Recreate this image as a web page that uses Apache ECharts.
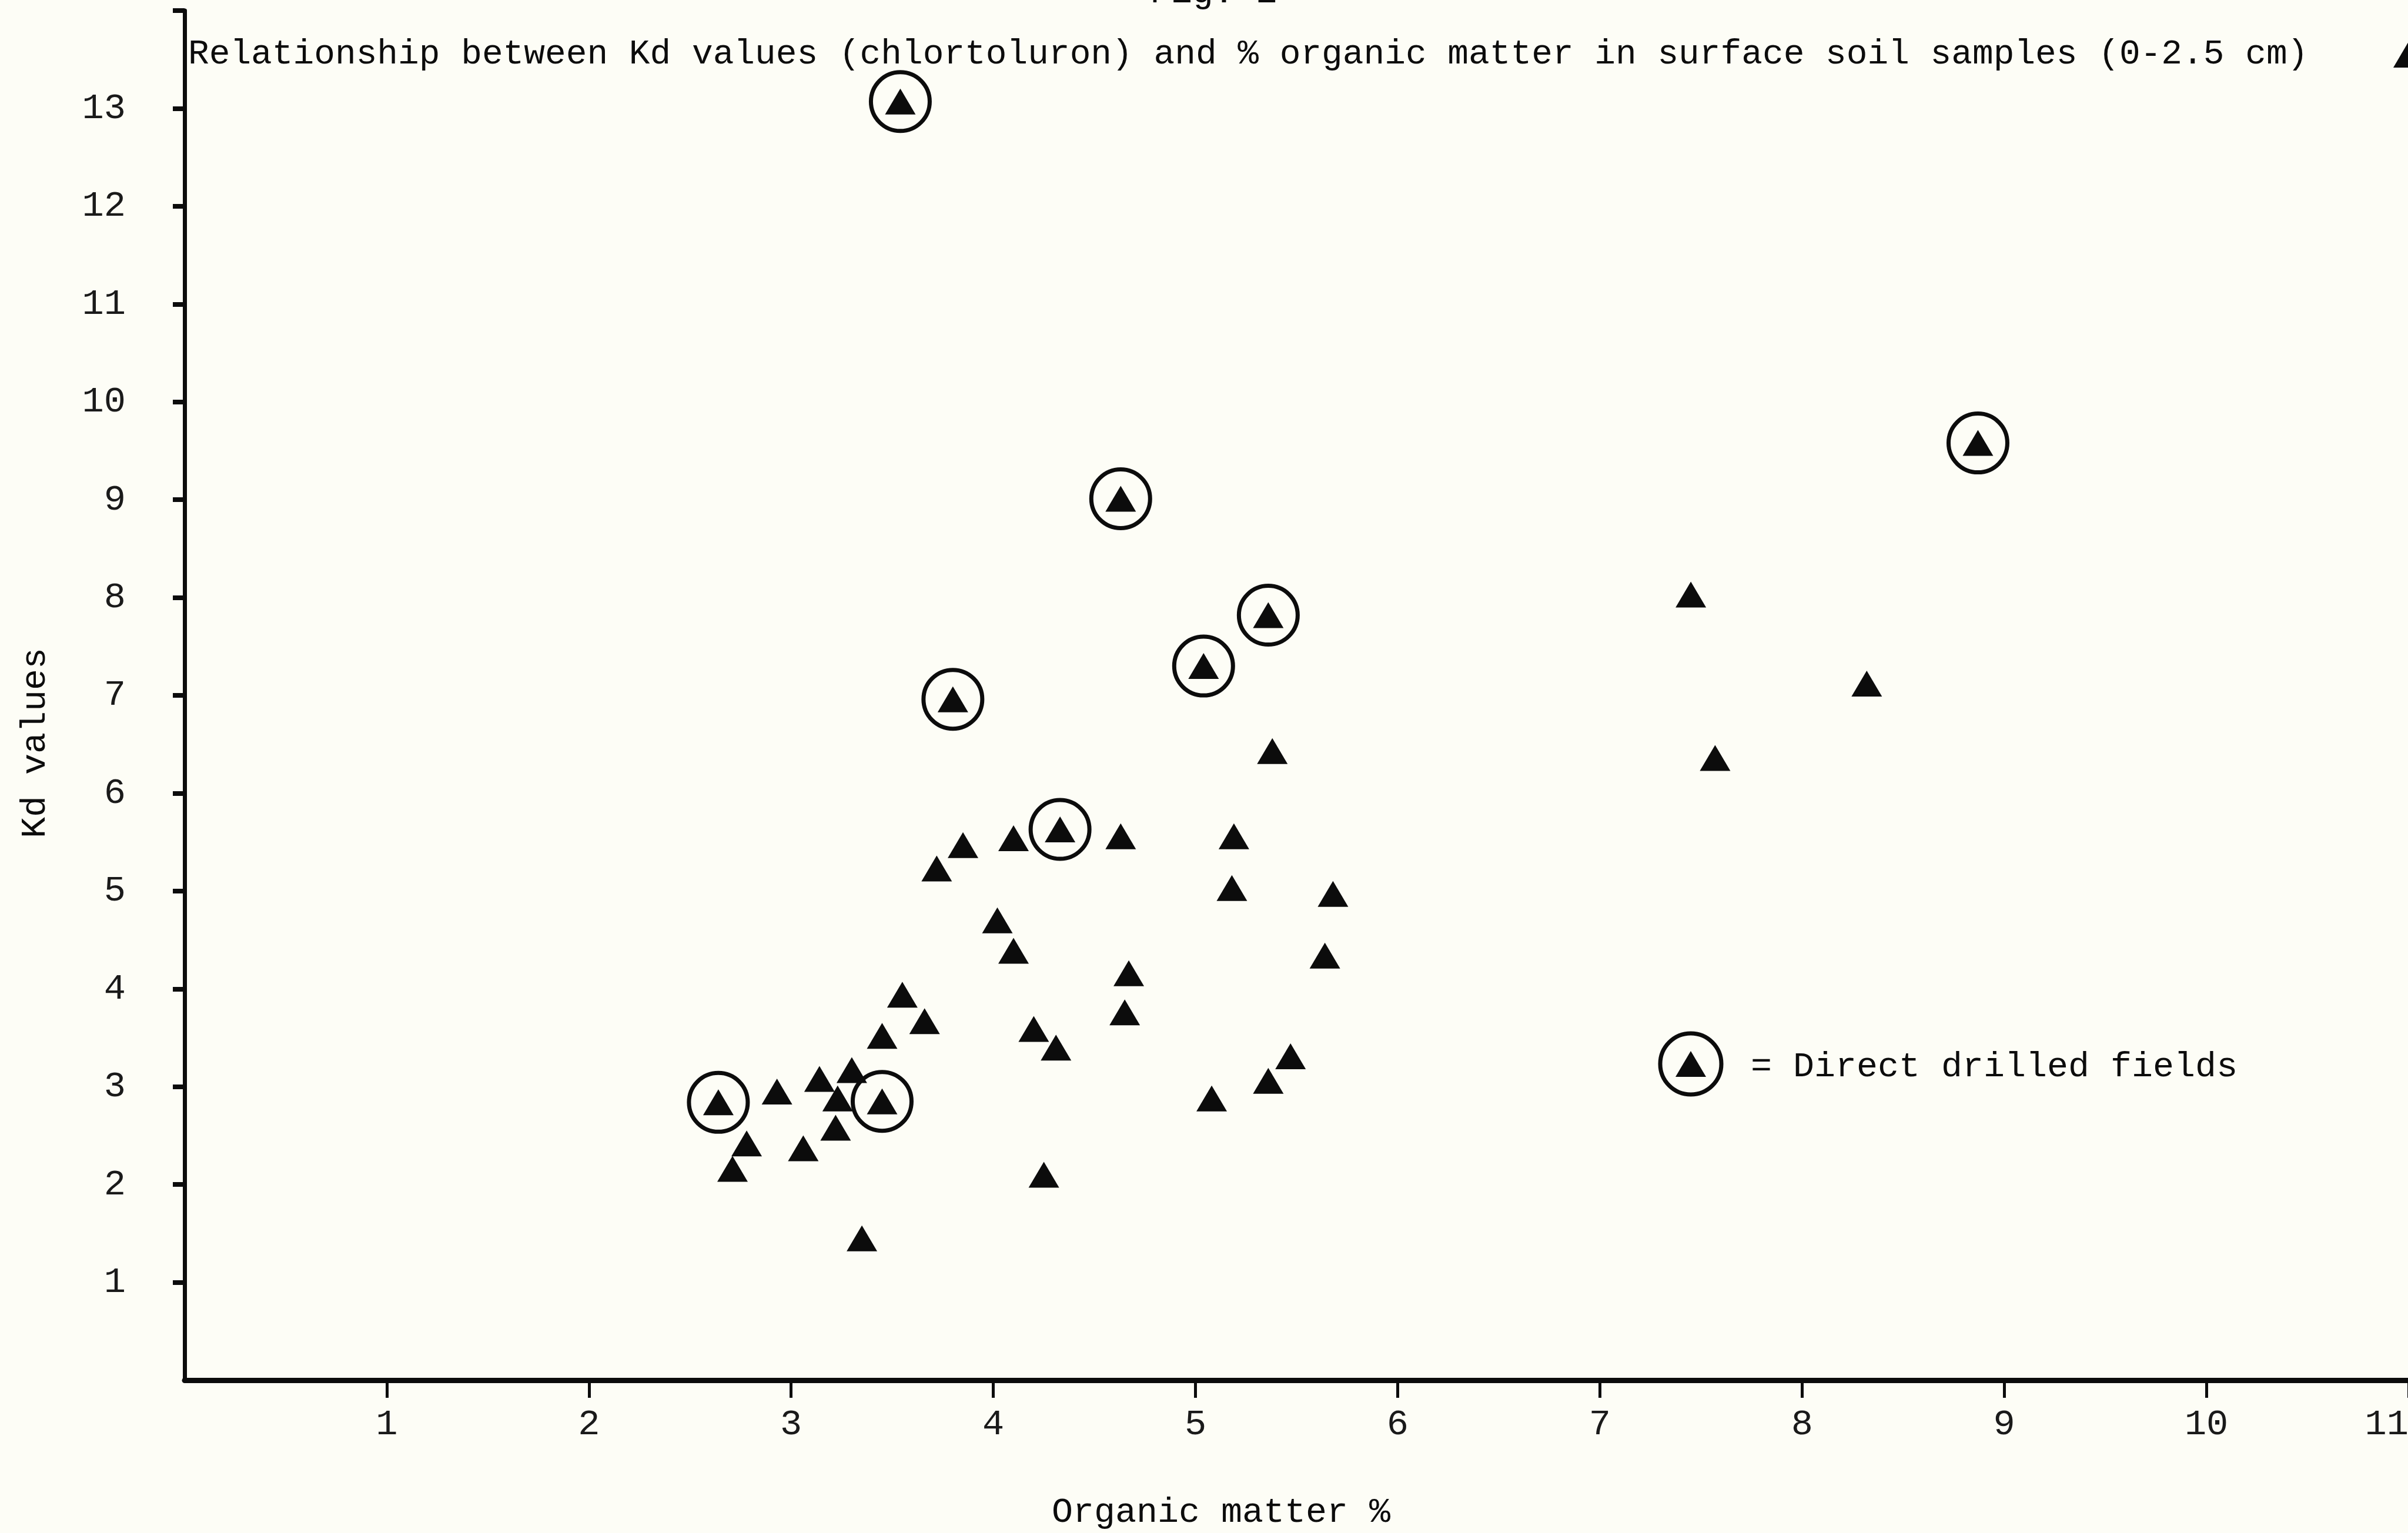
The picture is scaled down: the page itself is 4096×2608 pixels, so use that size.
<!DOCTYPE html>
<html>
<head>
<meta charset="utf-8">
<script src="https://cdn.jsdelivr.net/npm/echarts@6/dist/echarts.min.js"></script>
<style>
html,body{margin:0;padding:0;background:#fdfdf6;}
#chart{width:4096px;height:2608px;}
</style>
</head>
<body>
<div id="chart"></div>
<script>
// ---- data ----
// Direct drilled fields (circled triangles)
const directOM = [3.54, 8.87, 4.63, 5.36, 5.04, 3.80, 4.33, 2.64, 3.45];
const directKd = [13.07, 9.58, 9.01, 7.82, 7.30, 6.96, 5.63, 2.84, 2.85];
// Other fields (plain triangles)
const otherOM = [7.45, 8.32, 7.57, 5.38, 5.19, 4.63, 4.10, 3.85, 3.72, 5.18, 5.68, 4.02,
                 4.10, 5.64, 4.67, 3.55, 4.65, 3.66, 4.20, 3.45, 4.31, 5.47, 3.30, 5.36,
                 3.14, 2.93, 5.08, 3.23, 3.22, 2.78, 3.06, 2.71, 4.25, 3.35, 11.0];
const otherKd = [8.03, 7.12, 6.36, 6.43, 5.56, 5.56, 5.54, 5.47, 5.23, 5.03, 4.97, 4.70,
                 4.39, 4.34, 4.16, 3.94, 3.76, 3.67, 3.59, 3.52, 3.40, 3.31, 3.17, 3.06,
                 3.08, 2.95, 2.88, 2.88, 2.58, 2.42, 2.37, 2.16, 2.10, 1.45, 13.55];
// tick labels
const xTicks = [1, 2, 3, 4, 5, 6, 7, 8, 9, 10, 11];
const yTicks = [1, 2, 3, 4, 5, 6, 7, 8, 9, 10, 11, 12, 13];
const yTickMarks = [1, 2, 3, 4, 5, 6, 7, 8, 9, 10, 11, 12, 13, 14];
const titleText = 'Relationship between Kd values (chlortoluron) and % organic matter in surface soil samples (0-2.5 cm)';
const figText = 'Fig. 1';
const xName = 'Organic matter %';
const yName = 'Kd values';
const legendText = '= Direct drilled fields';

const zip = (a, b) => a.map((v, i) => [v, b[i]]);
const directData = zip(directOM, directKd);
const otherData = zip(otherOM, otherKd);

const FONT = '"Liberation Mono", "DejaVu Sans Mono", monospace';
const INK = '#0c0c0c';

const chart = echarts.init(document.getElementById('chart'), null, {renderer: 'canvas'});
chart.setOption({
  backgroundColor: '#fdfdf6',
  animation: false,
  grid: {left: 314, right: -1, top: 18, bottom: 260, containLabel: false, outerBoundsMode: 'none'},
  xAxis: {
    type: 'value', min: 0, max: 11, interval: 1,
    axisLine: {show: true, onZero: false, lineStyle: {color: INK, width: 9}},
    axisTick: {show: true, length: 30, customValues: xTicks, lineStyle: {color: INK, width: 5}},
    axisLabel: {customValues: xTicks, margin: 45, fontSize: 62, fontFamily: FONT, color: '#1a1a1a',
                alignMaxLabel: 'right'},
    splitLine: {show: false}
  },
  yAxis: {
    type: 'value', min: 0, max: 14, interval: 1,
    axisLine: {show: true, onZero: false, lineStyle: {color: INK, width: 7}},
    axisTick: {show: true, length: 20, customValues: yTickMarks, lineStyle: {color: INK, width: 8}},
    axisLabel: {customValues: yTicks, margin: 100, fontSize: 62, fontFamily: FONT, color: '#1a1a1a'},
    splitLine: {show: false}
  },
  series: [
    {
      name: 'Direct drilled rings', type: 'scatter', data: directData,
      symbol: 'circle', symbolSize: 100, clip: false, silent: true, z: 2,
      itemStyle: {color: 'rgba(0,0,0,0)', borderColor: INK, borderWidth: 7, opacity: 1}
    },
    {
      name: 'Direct drilled fields', type: 'scatter', data: directData,
      symbol: 'triangle', symbolSize: [52, 44], clip: false, silent: true, z: 3,
      itemStyle: {color: INK, opacity: 1}
    },
    {
      name: 'Other fields', type: 'scatter', data: otherData,
      symbol: 'triangle', symbolSize: [52, 44], clip: false, silent: true, z: 3,
      itemStyle: {color: INK, opacity: 1}
    }
  ],
  graphic: [
    {type: 'text', left: 320, top: 62, silent: true,
     style: {text: titleText, font: '59.5px ' + FONT, fill: INK}},
    {type: 'text', x: 2064, y: -12, silent: true,
     style: {text: figText, font: '60px ' + FONT, fill: INK, align: 'center', verticalAlign: 'middle'}},
    {type: 'text', x: 2077, y: 2573, silent: true,
     style: {text: xName, font: '60px ' + FONT, fill: INK, align: 'center', verticalAlign: 'middle'}},
    {type: 'text', x: 60, y: 1264, rotation: Math.PI / 2, silent: true,
     style: {text: yName, font: '60px ' + FONT, fill: INK, align: 'center', verticalAlign: 'middle'}},
    {type: 'group', silent: true, children: [
      {type: 'circle', shape: {cx: 2876, cy: 1810, r: 52},
       style: {fill: 'none', stroke: INK, lineWidth: 7}},
      {type: 'polygon', shape: {points: [[2876, 1788], [2850, 1832], [2902, 1832]]},
       style: {fill: INK}},
      {type: 'text', x: 2978, y: 1815,
       style: {text: legendText, font: '60px ' + FONT, fill: INK, align: 'left', verticalAlign: 'middle'}}
    ]}
  ]
});
</script>
</body>
</html>
